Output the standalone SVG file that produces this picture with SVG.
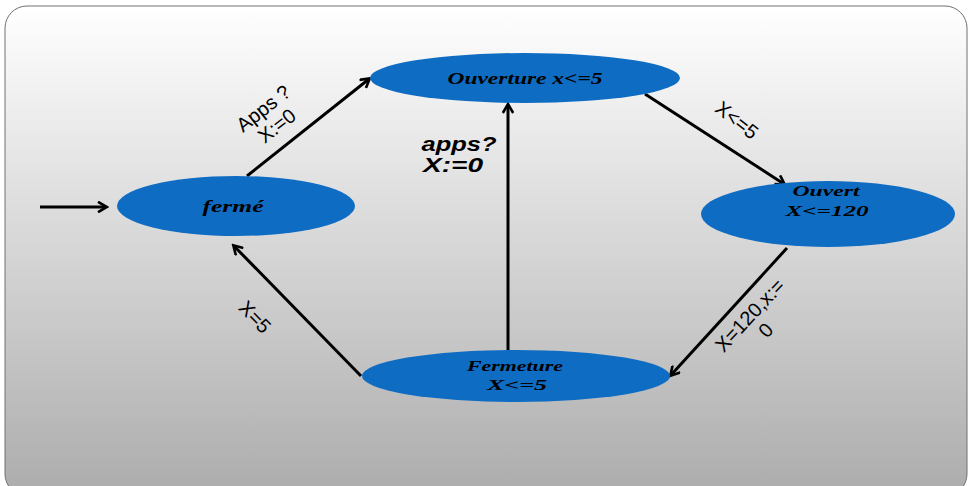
<svg xmlns="http://www.w3.org/2000/svg" width="971" height="486" viewBox="0 0 971 486">
  <style>
    .state { fill: #0f6cc3; }
    .name { font-family: "Liberation Serif", "Times New Roman", serif; font-weight: bold; font-style: italic; font-size: 17px; fill: #000; text-anchor: middle; }
    .name2 { font-size: 15px; }
    .edge { stroke: #000; stroke-width: 3; fill: none; marker-end: url(#arrow); }
    .lbl { font-family: "Liberation Sans", Arial, sans-serif; font-size: 20px; fill: #000; text-anchor: middle; }
    .lblb { font-family: "Liberation Sans", Arial, sans-serif; font-size: 21px; font-weight: bold; font-style: italic; fill: #000; text-anchor: middle; }
  </style>
  <defs>
    <linearGradient id="bg" x1="0" y1="0" x2="0" y2="1">
      <stop offset="0" stop-color="#ffffff"/>
      <stop offset="1" stop-color="#acacac"/>
    </linearGradient>
    <marker id="arrow" markerWidth="12" markerHeight="12" refX="9" refY="6" orient="auto" markerUnits="userSpaceOnUse" viewBox="0 0 12 12">
      <path d="M1,0.8 L10,6 L1,11.2" fill="none" stroke="#000" stroke-width="2.6"/>
    </marker>
  </defs>

  <rect width="971" height="486" fill="#ffffff"/>
  <rect x="5" y="6" width="962" height="490" rx="22" fill="url(#bg)" stroke="#707070" stroke-width="1"/>

  <g id="connectors">
    <line class="edge" x1="40" y1="207" x2="106" y2="207"/>
    <line class="edge" x1="247" y1="176" x2="369" y2="79"/>
    <line class="edge" x1="645" y1="94" x2="784" y2="184"/>
    <line class="edge" x1="787" y1="248" x2="671" y2="375"/>
    <line class="edge" x1="361" y1="376" x2="234" y2="246"/>
    <line class="edge" x1="508" y1="360" x2="508" y2="105"/>
    <g transform="translate(270,117) rotate(-38)">
      <text class="lbl" x="0" y="-4">Apps ?</text>
      <text class="lbl" x="0" y="18">X:=0</text>
    </g>
    <text class="lblb" x="459" y="151" textLength="75" lengthAdjust="spacingAndGlyphs">apps?</text>
    <text class="lblb" x="453" y="172" textLength="60" lengthAdjust="spacingAndGlyphs">X:=0</text>
    <g transform="translate(737,120) rotate(38)">
      <text class="lbl" x="0" y="7">X&lt;=5</text>
    </g>
    <g transform="translate(757,322) rotate(-47)">
      <text class="lbl" x="0" y="-3">X=120,x:=</text>
      <text class="lbl" x="0" y="19">0</text>
    </g>
    <g transform="translate(255,317) rotate(46)">
      <text class="lbl" x="0" y="7">X=5</text>
    </g>
  </g>

  <g id="ouverture">
    <ellipse class="state" cx="525" cy="78" rx="155" ry="25"/>
    <text class="name" x="525" y="84" textLength="155" lengthAdjust="spacingAndGlyphs">Ouverture x&lt;=5</text>
  </g>
  <g id="ferme">
    <ellipse class="state" cx="236" cy="206" rx="119" ry="30"/>
    <text class="name" x="233" y="212" textLength="61" lengthAdjust="spacingAndGlyphs">fermé</text>
  </g>
  <g id="ouvert">
    <ellipse class="state" cx="828" cy="214" rx="127" ry="33"/>
    <text class="name name2" x="826" y="196" textLength="67" lengthAdjust="spacingAndGlyphs">Ouvert</text>
    <text class="name name2" x="827" y="216" textLength="83" lengthAdjust="spacingAndGlyphs">X&lt;=120</text>
  </g>
  <g id="fermeture">
    <ellipse class="state" cx="516" cy="376" rx="154" ry="26"/>
    <text class="name name2" x="515" y="371" textLength="96" lengthAdjust="spacingAndGlyphs">Fermeture</text>
    <text class="name name2" x="517" y="390" textLength="60" lengthAdjust="spacingAndGlyphs">X&lt;=5</text>
  </g>
</svg>
